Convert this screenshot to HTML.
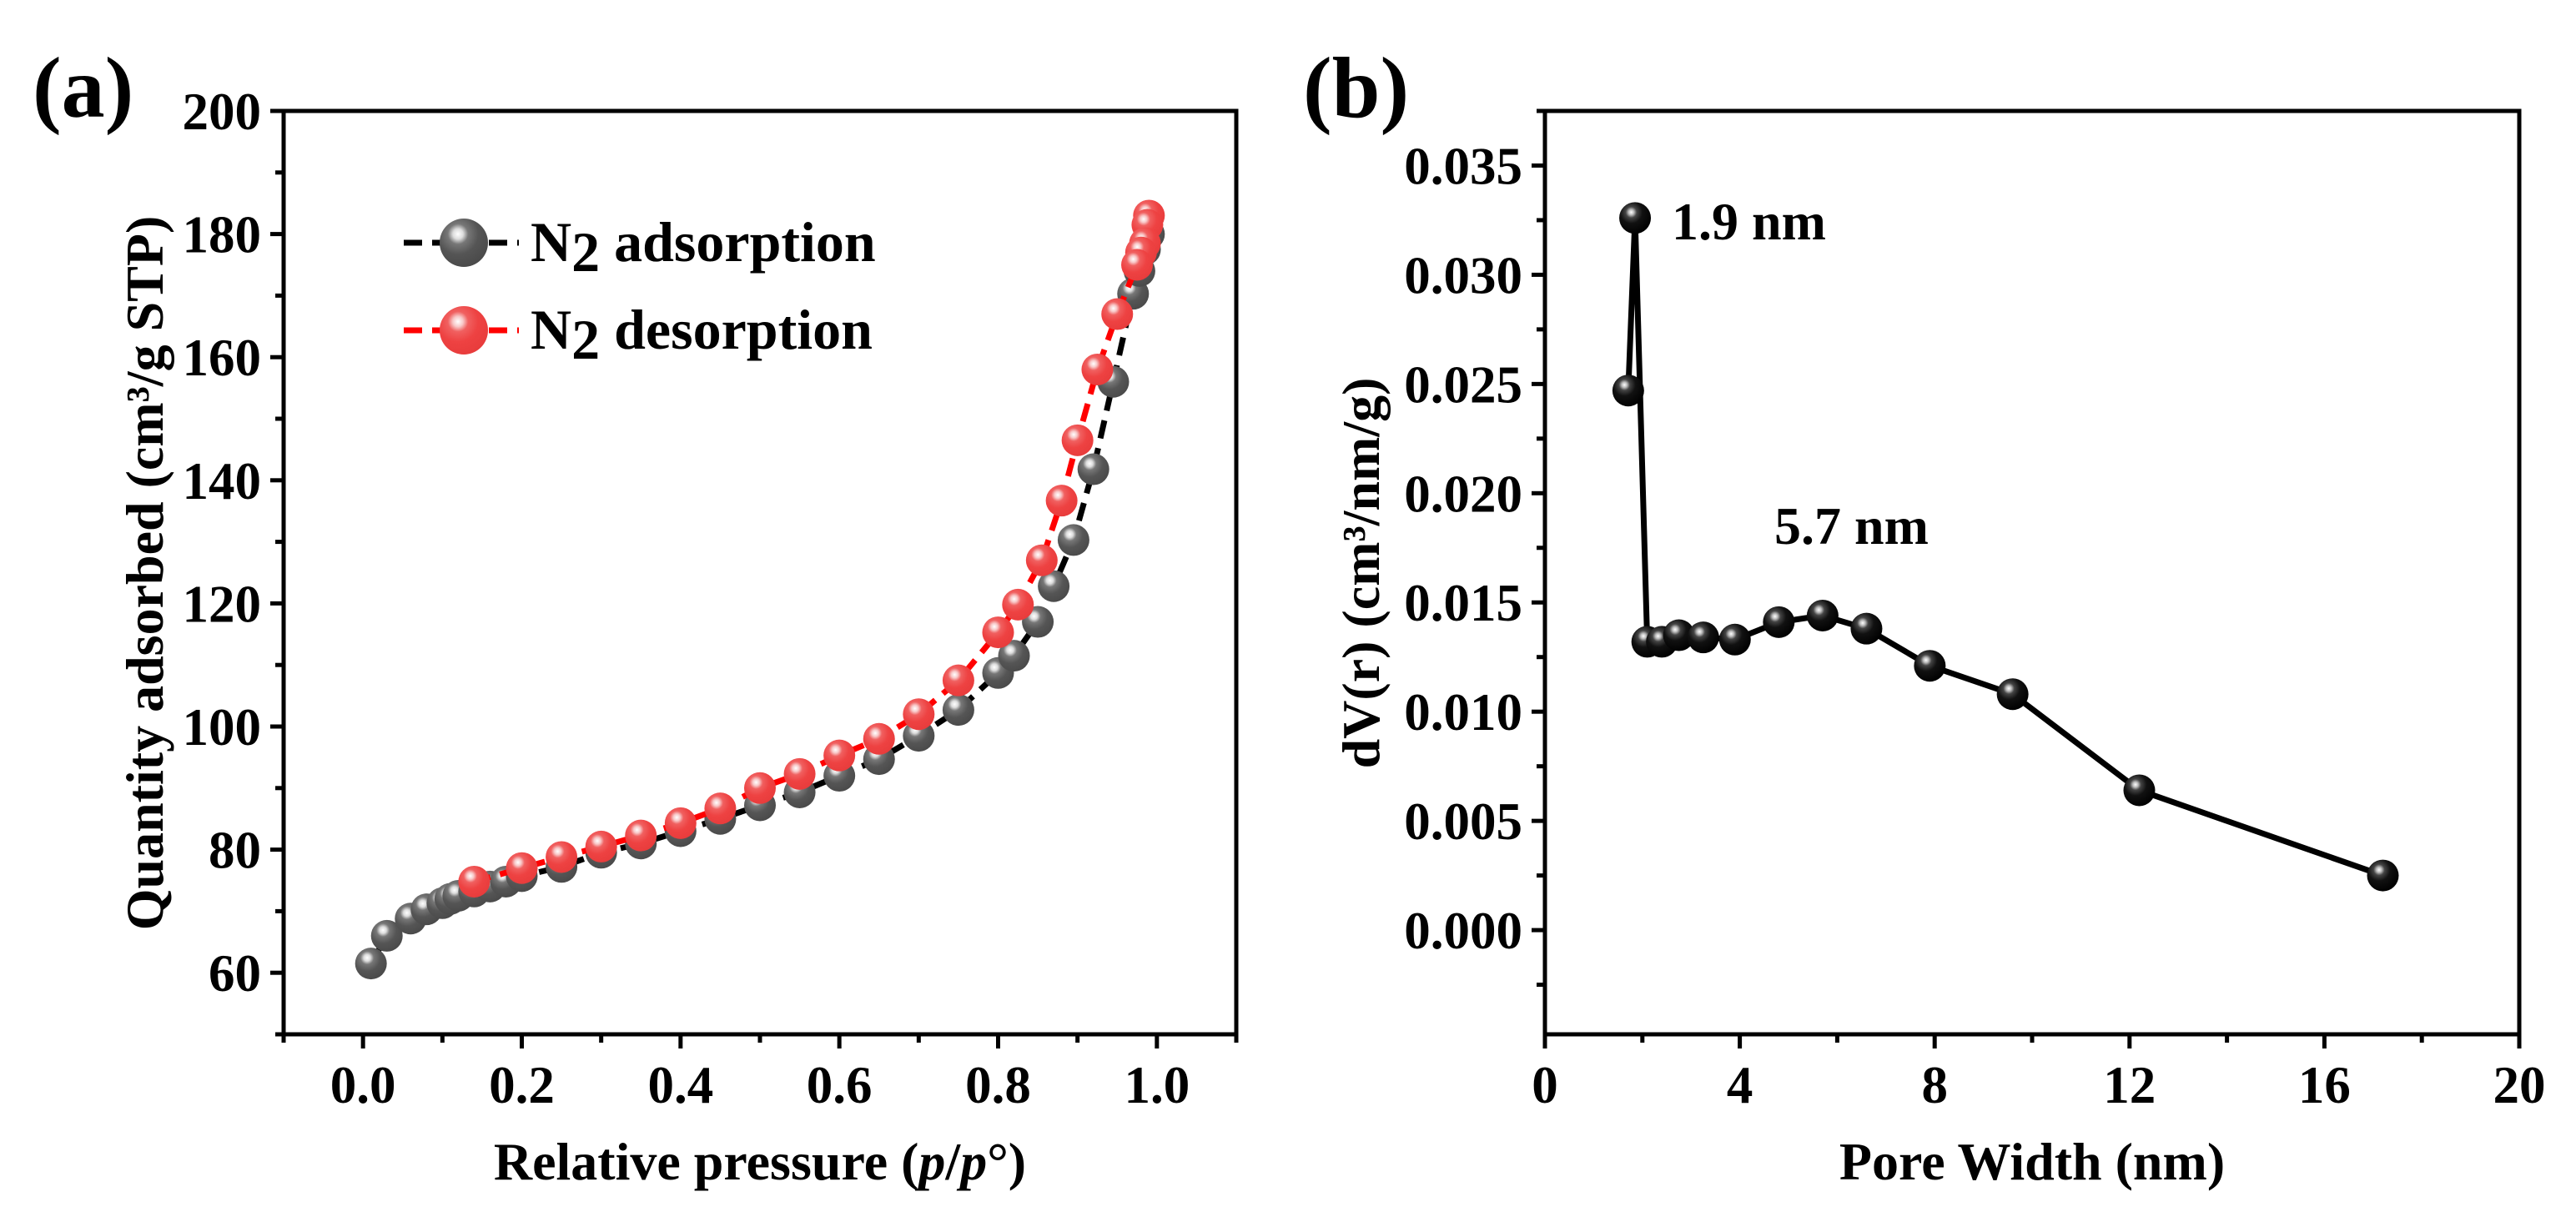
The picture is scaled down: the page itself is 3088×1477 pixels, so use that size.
<!DOCTYPE html>
<html><head><meta charset="utf-8">
<style>
html,body{margin:0;padding:0;background:#fff;}
svg{display:block;}
text{font-family:"Liberation Serif",serif;font-weight:bold;fill:#000;}
</style></head>
<body>
<svg id="fig" width="3088" height="1477" viewBox="0 0 3088 1477" xmlns="http://www.w3.org/2000/svg">
<defs>
<radialGradient id="gGray" cx="0.38" cy="0.32" r="0.7">
<stop offset="0" stop-color="#ffffff"/><stop offset="0.15" stop-color="#ddd"/><stop offset="0.3" stop-color="#777"/><stop offset="0.6" stop-color="#555"/><stop offset="1" stop-color="#4a4a4a"/></radialGradient>
<radialGradient id="gRed" cx="0.38" cy="0.32" r="0.7">
<stop offset="0" stop-color="#ffffff"/><stop offset="0.15" stop-color="#f8c8c8"/><stop offset="0.3" stop-color="#f06060"/><stop offset="0.6" stop-color="#ee4242"/><stop offset="1" stop-color="#e83c3c"/></radialGradient>
<radialGradient id="gBlack" cx="0.38" cy="0.32" r="0.7">
<stop offset="0" stop-color="#ffffff"/><stop offset="0.12" stop-color="#bbb"/><stop offset="0.25" stop-color="#444"/><stop offset="0.5" stop-color="#111"/><stop offset="1" stop-color="#000"/></radialGradient>
</defs>
<text x="39" y="140" font-size="104">(a)</text>
<text x="1562" y="140" font-size="104">(b)</text>
<g id="pa"></g>
<g id="pb"></g>
</svg>
<script>
// Panel (a) data
const adsX = [0.01,0.03,0.06,0.08,0.10,0.11,0.12,0.14,0.16,0.18,0.20,0.25,0.30,0.35,0.40,0.45,0.50,0.55,0.60,0.65,0.70,0.75,0.80,0.82,0.85,0.87,0.895,0.92,0.945,0.97,0.978,0.985,0.99];
const adsY = [61.5,66,68.8,70.3,71.3,72,72.5,73.2,74,74.8,75.7,77.2,79.5,81,83,85,87.2,89.3,92,94.7,98.5,102.7,108.7,111.5,117,122.8,130.3,141.8,156,170.3,174,177.5,180];
const desX = [0.99,0.988,0.985,0.98,0.975,0.95,0.925,0.9,0.88,0.855,0.825,0.80,0.75,0.70,0.65,0.60,0.55,0.50,0.45,0.40,0.35,0.30,0.25,0.20,0.14];
const desY = [183,181.5,178.5,177,175,167,158,146.5,136.7,127,119.8,115.3,107.5,102,98,95.3,92.3,90,86.7,84.3,82.3,80.5,78.8,77,74.8];
const aXTicks = ["0.0","0.2","0.4","0.6","0.8","1.0"];
const aYTicks = ["60","80","100","120","140","160","180","200"];
// Panel (b) data
const poreX = [1.71,1.85,2.1,2.4,2.75,3.25,3.9,4.8,5.7,6.6,7.9,9.6,12.2,17.2];
const poreY = [0.0247,0.0326,0.0132,0.0132,0.0135,0.0134,0.0133,0.0141,0.0144,0.0138,0.0121,0.0108,0.0064,0.0025];
const bXTicks = ["0","4","8","12","16","20"];
const bYTicks = ["0.000","0.005","0.010","0.015","0.020","0.025","0.030","0.035"];

const NS="http://www.w3.org/2000/svg";
function mk(parent,tag,attrs){const e=document.createElementNS(NS,tag);for(const k in attrs)e.setAttribute(k,attrs[k]);parent.appendChild(e);return e;}

function axes(g,L,R,T,B,x0,x1,y0,y1,xt,yt,xMinor,yMinor,name){
  const sx=v=>L+(v-x0)/(x1-x0)*(R-L), sy=v=>B-(v-y0)/(y1-y0)*(B-T);
  const fr=mk(g,'rect',{x:L,y:T,width:R-L,height:B-T,fill:'none',stroke:'#000','stroke-width':5});
  
  
  xt.forEach(s=>{const v=parseFloat(s);const x=sx(v);
    const t=mk(g,'line',{x1:x,x2:x,y1:B,y2:B+17,stroke:'#000','stroke-width':5});
    
    
    const tx=mk(g,'text',{x:x,y:B+82,'font-size':63,'text-anchor':'middle'});tx.textContent=s;
    
    });
  xMinor.forEach(v=>{const x=sx(v);const t=mk(g,'line',{x1:x,x2:x,y1:B,y2:B+10,stroke:'#000','stroke-width':5});
    
    });
  yt.forEach(s=>{const v=parseFloat(s);const y=sy(v);
    const t=mk(g,'line',{x1:L-16,x2:L,y1:y,y2:y,stroke:'#000','stroke-width':5});
    
    
    const tx=mk(g,'text',{x:L-27,y:y+22,'font-size':63,'text-anchor':'end'});tx.textContent=s;
    
    });
  yMinor.forEach(v=>{const y=sy(v);const t=mk(g,'line',{x1:L-10,x2:L,y1:y,y2:y,stroke:'#000','stroke-width':5});
    
    });
  return [sx,sy];
}
function series(g,xs,ys,sx,sy,color,dash,grad,name){
  const pts=xs.map((x,i)=>sx(x)+','+sy(ys[i])).join(' ');
  const pl=mk(g,'polyline',{points:pts,fill:'none',stroke:color,'stroke-width':7,'stroke-dasharray':dash,'stroke-linejoin':'round'});
  
  
  xs.forEach((x,i)=>{const c=mk(g,'circle',{cx:sx(x),cy:sy(ys[i]),r:19,fill:'url(#'+grad+')'});
    
    });
}
// Panel a
const pa=document.getElementById('pa');
const aMinX=[-0.1,0.1,0.3,0.5,0.7,0.9,1.1], aMinY=[50,70,90,110,130,150,170,190];
const [ax,ay]=axes(pa,340,1482,133,1240,-0.1,1.1,50,200,aXTicks,aYTicks,aMinX,aMinY,'panel-a');
series(pa,adsX,adsY,ax,ay,'#000','22 12','gGray','adsorption');
series(pa,desX,desY,ax,ay,'#ff0000','22 12','gRed','desorption');
// legend
[[291,'#000','gGray','adsorption'],[396,'#ff0000','gRed','desorption']].forEach(([y,c,gr,lab])=>{
  const ln=mk(pa,'line',{x1:484,x2:622,y1:y,y2:y,stroke:c,'stroke-width':7,'stroke-dasharray':'22 12'});
  
  
  const ci=mk(pa,'circle',{cx:556,cy:y,r:29,fill:'url(#'+gr+')'});
  
  
  const t=mk(pa,'text',{x:636,y:y+22,'font-size':68});
  t.innerHTML='N<tspan dy="12">2</tspan><tspan dy="-12"> '+lab+'</tspan>';
  
  
});
const axt=mk(pa,'text',{x:911,y:1414,'font-size':64,'text-anchor':'middle'});
axt.innerHTML='Relative pressure (<tspan font-style="italic">p</tspan>/<tspan font-style="italic">p</tspan>°)';


const ayt=mk(pa,'text',{x:0,y:0,'font-size':64,'text-anchor':'middle',transform:'translate(195,687) rotate(-90)'});
ayt.innerHTML='Quantity adsorbed (cm³/g STP)';


// Panel b
const pb=document.getElementById('pb');
const bMinX=[2,6,10,14,18], bMinY=[-0.0025,0.0025,0.0075,0.0125,0.0175,0.0225,0.0275,0.0325,0.0375];
const [bx,by]=axes(pb,1852,3020,133,1240,0,20,-0.00477,0.0375,bXTicks,bYTicks,bMinX,bMinY,'panel-b');
series(pb,poreX,poreY,bx,by,'#000','none','gBlack','pore-distribution');
const n1=mk(pb,'text',{x:2004,y:287,'font-size':64});n1.textContent='1.9 nm';


const n2=mk(pb,'text',{x:2127,y:652,'font-size':64});n2.textContent='5.7 nm';


const bxt=mk(pb,'text',{x:2436,y:1414,'font-size':64,'text-anchor':'middle'});bxt.textContent='Pore Width (nm)';


const byt=mk(pb,'text',{x:0,y:0,'font-size':64,'text-anchor':'middle',transform:'translate(1653,687) rotate(-90)'});
byt.textContent='dV(r) (cm³/nm/g)';


</script>
</body></html>
